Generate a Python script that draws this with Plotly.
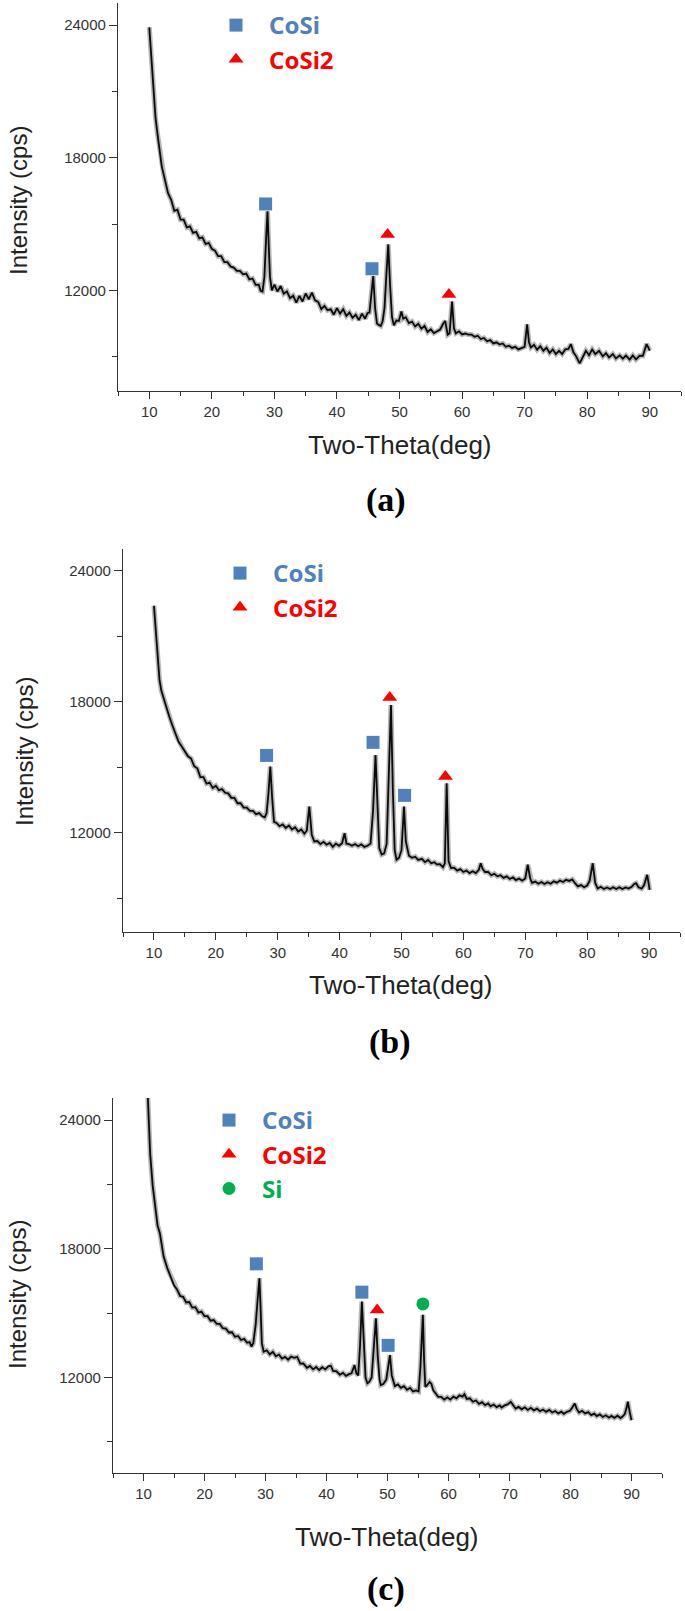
import plotly.graph_objects as go

W, H = 685, 1611

# ---------------- data ----------------
# Panel (a)
a_x = [10.0, 10.2, 10.4, 10.6, 10.8, 11.0, 11.3, 11.6, 12.0, 12.3, 12.6, 13.0, 13.5, 14.0, 14.5,
       15.0, 15.5, 16.0, 16.5, 17.0, 17.5, 18.0, 18.5, 19.0, 19.5, 20.0, 20.5, 21.0, 21.5, 22.0,
       22.5, 23.0, 23.5, 24.0, 24.5, 25.0, 25.5, 26.0, 26.5, 27.0, 27.5, 27.8, 28.1, 28.4, 28.7,
       28.9, 29.1, 29.3, 29.6, 30.0, 30.5, 31.0, 31.5, 32.0, 32.5, 33.0, 33.5, 34.0, 34.5, 35.0,
       35.5, 36.0, 36.5, 37.0, 37.5, 38.0, 38.5, 39.0, 39.5, 40.0, 40.5, 41.0, 41.5, 42.0, 42.5,
       43.0, 43.5, 44.0, 44.5, 44.9, 45.2, 45.5, 45.8, 46.1, 46.4, 46.7, 47.0, 47.3, 47.6, 47.9,
       48.2, 48.5, 48.8, 49.1, 49.5, 49.9, 50.3, 50.6, 51.0, 51.5, 52.0, 52.5, 53.0, 53.5, 54.0,
       54.5, 55.0, 55.5, 56.0, 56.5, 57.0, 57.3, 57.7, 58.0, 58.4, 58.7, 59.0, 59.5, 60.0, 60.5,
       61.0, 61.5, 62.0, 62.5, 63.0, 63.5, 64.0, 64.5, 65.0, 65.5, 66.0, 66.5, 67.0, 67.5, 68.0,
       68.5, 69.0, 69.5, 70.0, 70.4, 70.7, 71.0, 71.5, 72.0, 72.5, 73.0, 73.5, 74.0, 74.5, 75.0,
       75.5, 76.0, 76.5, 77.0, 77.4, 77.8, 78.2, 78.8, 79.2, 79.8, 80.3, 80.8, 81.3, 81.9, 82.5,
       83.0, 83.5, 84.1, 84.6, 85.2, 85.7, 86.2, 86.8, 87.3, 87.8, 88.4, 88.9, 89.3, 89.5, 89.8,
       90.0]
a_y = [23900, 23000, 22000, 21100, 20400, 19800, 19100, 18500, 17600, 17250, 16850, 16400, 16100, 15600, 15650,
       15200, 15200, 14850, 14900, 14600, 14650, 14350, 14400, 14100, 14150, 13880, 13800, 13550, 13550, 13280,
       13280, 13080, 13030, 12880, 12880, 12730, 12760, 12500, 12540, 12250, 12260, 11980, 11950, 12600, 14500,
       15580, 14000, 12600, 12000, 12260, 11950, 12200, 11850, 11960, 11650, 11760, 11450, 11750, 11500, 11860,
       11600, 11900, 11550, 11480, 11150, 11300, 11100, 11150, 10900, 11200, 10950, 11150, 10850, 11000, 10760,
       10900, 10660, 10950, 10720, 10980, 11000, 11700, 12650, 11200, 10500, 10440, 10390, 10600, 11200, 12700,
       14080, 12200, 10800, 10420, 10640, 10620, 11050, 10720, 10790, 10520, 10590, 10370, 10490, 10270, 10390,
       10120, 10240, 10070, 10170, 10230, 10500, 10620, 10000, 10060, 11500, 10300, 10060, 10150, 10010, 10050,
       10000, 10000, 9900, 9950, 9800, 9850, 9700, 9750, 9600, 9650, 9550, 9600, 9450, 9500, 9400,
       9450, 9330, 9400, 9450, 10470, 9650, 9420, 9540, 9320, 9480, 9270, 9410, 9170, 9330, 9120,
       9270, 9120, 9330, 9350, 9570, 9200, 9040, 8700, 8950, 9270, 9070, 9330, 9120, 9270, 9020,
       9160, 8970, 9120, 8920, 9060, 8910, 9050, 8870, 9060, 8880, 9050, 9040, 9400, 9570, 9400,
       9270]
a_cosi_x = [28.6, 45.6]
a_cosi_y = [15910, 12980]
a_cosi2_x = [48.1, 57.9]
a_cosi2_y = [14530, 11820]

# Panel (b)
b_x = [10.0, 10.2, 10.4, 10.6, 10.9, 11.2, 11.6, 12.0, 12.5, 13.0, 13.5, 14.0, 14.5, 15.0, 15.5,
       16.0, 16.5, 17.0, 17.5, 18.0, 18.5, 19.0, 19.5, 20.0, 20.5, 21.0, 21.5, 22.0, 22.5, 23.0,
       23.5, 24.0, 24.5, 25.0, 25.5, 26.0, 26.5, 27.0, 27.5, 27.9, 28.2, 28.5, 28.8, 29.1, 29.4,
       29.8, 30.3, 30.8, 31.3, 31.8, 32.3, 32.8, 33.3, 33.8, 34.3, 34.7, 35.1, 35.5, 35.9, 36.4,
       36.9, 37.4, 37.9, 38.4, 38.9, 39.4, 39.9, 40.4, 40.8, 41.1, 41.5, 42.0, 42.5, 43.0, 43.5,
       44.0, 44.5, 45.0, 45.4, 45.8, 46.1, 46.4, 46.8, 47.2, 47.6, 47.9, 48.3, 48.6, 48.9, 49.2,
       49.6, 50.0, 50.4, 50.7, 51.2, 51.7, 52.2, 52.7, 53.3, 53.8, 54.3, 54.8, 55.3, 55.7, 56.2,
       56.7, 57.0, 57.3, 57.6, 58.0, 58.5, 59.0, 59.5, 60.0, 60.5, 61.0, 61.5, 62.0, 62.5, 62.8,
       63.1, 63.5, 64.0, 64.5, 65.0, 65.5, 66.0, 66.5, 67.0, 67.5, 68.0, 68.5, 69.0, 69.5, 70.0,
       70.4, 70.8, 71.1, 71.6, 72.1, 72.6, 73.1, 73.6, 74.1, 74.6, 75.1, 75.6, 76.1, 76.6, 77.1,
       77.6, 78.0, 78.5, 79.0, 79.5, 80.0, 80.4, 80.9, 81.3, 81.7, 82.2, 82.7, 83.2, 83.7, 84.2,
       84.7, 85.2, 85.7, 86.2, 86.7, 87.2, 87.6, 87.9, 88.3, 88.8, 89.2, 89.7, 90.1]
b_y = [22400, 21600, 20800, 19900, 19000, 18500, 18100, 17700, 17300, 16900, 16500, 16150, 15950, 15700, 15500,
       15400, 15050, 14950, 14550, 14550, 14250, 14300, 14050, 14150, 13950, 14000, 13830, 13800, 13600, 13600,
       13350, 13350, 13150, 13150, 13000, 13000, 12850, 12900, 12750, 12700, 12900, 13800, 15030, 13600, 12500,
       12450, 12300, 12380, 12220, 12330, 12150, 12250, 12050, 12150, 11950, 12100, 13200, 11900, 11600, 11620,
       11480, 11580, 11450, 11530, 11350, 11500, 11400, 11520, 11980, 11500, 11480, 11400, 11480, 11380, 11470,
       11350, 11400, 11500, 13000, 15560, 13200, 11300, 11000, 11050, 11500, 14000, 17850, 14000, 11200, 10760,
       10850, 11200, 13200, 11600, 10950, 10850, 10900, 10750, 10800, 10650, 10750, 10600, 10650, 10550, 10560,
       10420, 10600, 14260, 10700, 10380, 10400, 10260, 10330, 10200, 10270, 10150, 10230, 10150, 10300, 10600,
       10350, 10200, 10200, 10050, 10120, 10000, 10050, 9930, 10000, 9880, 9950, 9830, 9900, 9800, 9900,
       10530, 9900, 9700, 9760, 9660, 9740, 9650, 9730, 9660, 9770, 9710, 9810, 9740, 9840, 9790,
       9860, 9700, 9540, 9600, 9500, 9580, 9800, 10600, 9700, 9440, 9520, 9420, 9490, 9420, 9500,
       9420, 9500, 9420, 9490, 9440, 9520, 9650, 9690, 9500, 9440, 9600, 10070, 9380]
b_cosi_x = [28.2, 45.4, 50.5]
b_cosi_y = [15540, 16140, 13710]
b_cosi2_x = [48.1, 57.1]
b_cosi2_y = [18200, 14570]

# Panel (c)
c_x = [10.5, 10.8, 11.1, 11.5, 11.9, 12.3, 12.7, 13.3, 13.9, 14.5, 15.0, 15.5, 16.0, 16.5, 17.0,
       17.5, 18.0, 18.5, 19.0, 19.5, 20.0, 20.5, 21.0, 21.5, 22.0, 22.5, 23.0, 23.5, 24.0, 24.5,
       25.0, 25.5, 26.0, 26.5, 27.0, 27.4, 27.7, 28.0, 28.4, 28.7, 29.0, 29.2, 29.4, 29.7, 30.2,
       30.7, 31.2, 31.7, 32.2, 32.7, 33.2, 33.7, 34.2, 34.7, 35.2, 35.7, 36.2, 36.8, 37.3, 37.8,
       38.3, 38.8, 39.3, 39.8, 40.3, 40.7, 41.1, 41.6, 42.2, 42.7, 43.2, 43.7, 44.1, 44.6, 44.9,
       45.2, 45.5, 45.8, 46.1, 46.4, 46.7, 47.0, 47.4, 47.8, 48.1, 48.4, 48.7, 48.9, 49.3, 49.8,
       50.1, 50.4, 50.7, 51.2, 51.7, 52.2, 52.7, 53.2, 53.7, 54.2, 54.7, 55.1, 55.4, 55.8, 56.0,
       56.2, 56.5, 56.9, 57.2, 57.5, 57.8, 58.3, 58.8, 59.3, 59.8, 60.3, 60.8, 61.3, 61.8, 62.3,
       62.6, 63.0, 63.5, 64.0, 64.5, 65.0, 65.5, 66.0, 66.5, 66.9, 67.4, 67.9, 68.4, 68.7, 69.2,
       69.7, 70.2, 70.6, 71.0, 71.5, 72.0, 72.5, 73.0, 73.5, 74.0, 74.5, 75.0, 75.5, 76.0, 76.5,
       77.0, 77.5, 78.0, 78.5, 78.9, 79.4, 79.9, 80.3, 80.7, 81.0, 81.4, 81.9, 82.4, 82.9, 83.4,
       83.9, 84.3, 84.8, 85.3, 85.8, 86.3, 86.7, 87.2, 87.7, 88.2, 88.5, 88.9, 89.2, 89.4, 89.7,
       90.0]
c_y = [26500, 24100, 22400, 20960, 19900, 19100, 18700, 17640, 17100, 16710, 16300, 16100, 15800, 15760, 15500,
       15520, 15260, 15280, 15030, 15080, 14860, 14860, 14650, 14680, 14500, 14500, 14300, 14280, 14100, 14110,
       13900, 13940, 13750, 13800, 13620, 13650, 13440, 13600, 14500, 15600, 16630, 15200, 13600, 13200, 13270,
       13080, 13200, 12990, 13070, 12880, 12960, 12830, 12980, 12920, 12960, 12650, 12660, 12450, 12540, 12380,
       12490, 12350, 12480, 12380, 12520, 12550, 12300, 12300, 12130, 12220, 12080, 12160, 12200, 12580, 12200,
       12100, 13500, 15540, 13400, 12000, 11730, 11800, 12000, 13500, 14760, 13000, 11900, 11650, 11700, 11900,
       12400, 13050, 12100, 11600, 11680, 11520, 11600, 11430, 11520, 11350, 11400, 11350, 12500, 14920, 12800,
       11570, 11650, 11800, 11700, 11400, 11300, 11100, 11100, 10970, 11080, 10970, 11110, 11030, 11170, 11110,
       11220, 11000, 11030, 10870, 10930, 10770, 10850, 10710, 10790, 10660, 10740, 10620, 10700, 10600, 10700,
       10750, 10870, 10700, 10550, 10630, 10520, 10610, 10490, 10590, 10470, 10550, 10430, 10510, 10400, 10490,
       10370, 10440, 10330, 10410, 10310, 10400, 10450, 10600, 10790, 10550, 10370, 10450, 10330, 10390, 10250,
       10320, 10200, 10280, 10160, 10240, 10130, 10210, 10120, 10220, 10110, 10170, 10300, 10600, 10870, 10400,
       10010]
c_cosi_x = [28.5, 45.8, 50.1]
c_cosi_y = [17300, 15980, 13500]
c_cosi2_x = [48.3]
c_cosi2_y = [15150]
c_si_x = [55.8]
c_si_y = [15430]

x_range = [5, 95]
x_major = 10
x_minor = 5
y_major = 6000
y_minor = 3000
ranges_y = {"a": [7450, 25000], "b": [7450, 25000], "c": [7550, 25030]}

x_title = "Two-Theta(deg)"
y_title = "Intensity (cps)"
panel_labels = ["(a)", "(b)", "(c)"]

# ---------------- styles ----------------
BLUE = "#4F81BD"
RED = "#FF0000"
GREEN = "#00B050"


def px_x(p):
    return p / W


def px_y(p):
    return 1 - p / H


# panel boxes in pixels: (left, right, top, bottom)
boxes = {
    "a": (118, 681, 3, 391),
    "b": (123, 680, 549, 932),
    "c": (113, 662, 1098, 1473),
}

fig = go.Figure()

panels = [
    ("a", "x", "y", a_x, a_y, [("CoSi", a_cosi_x, a_cosi_y, "square", BLUE),
                               ("CoSi2", a_cosi2_x, a_cosi2_y, "triangle-up", RED)], "legend"),
    ("b", "x2", "y2", b_x, b_y, [("CoSi", b_cosi_x, b_cosi_y, "square", BLUE),
                                 ("CoSi2", b_cosi2_x, b_cosi2_y, "triangle-up", RED)], "legend2"),
    ("c", "x3", "y3", c_x, c_y, [("CoSi", c_cosi_x, c_cosi_y, "square", BLUE),
                                 ("CoSi2", c_cosi2_x, c_cosi2_y, "triangle-up", RED),
                                 ("Si", c_si_x, c_si_y, "circle", GREEN)], "legend3"),
]

for key, xa, ya, xs, ys, markers, leg in panels:
    # soft halo to mimic the noisy band
    fig.add_trace(go.Scatter(x=xs, y=ys, mode="lines", xaxis=xa, yaxis=ya,
                             line=dict(color="rgba(30,30,30,0.32)", width=5),
                             showlegend=False, hoverinfo="skip"))
    fig.add_trace(go.Scatter(x=xs, y=ys, mode="lines", xaxis=xa, yaxis=ya,
                             line=dict(color="#0a0a0a", width=1.8),
                             showlegend=False))
    for name, mx, my, sym, col in markers:
        fig.add_trace(go.Scatter(
            x=mx, y=my, mode="markers", xaxis=xa, yaxis=ya,
            marker=dict(symbol=sym, size=13, color=col, line=dict(width=0)),
            name="<b><span style='color:%s'>%s</span></b>" % (col, name),
            legend=leg, showlegend=True))

layout = dict(
    width=W, height=H,
    margin=dict(l=0, r=0, t=0, b=0),
    paper_bgcolor="white", plot_bgcolor="white",
    font=dict(family="Liberation Sans, Arial, sans-serif", color="#333333"),
    showlegend=True,
)

axis_common_x = dict(
    range=x_range, showgrid=False, zeroline=False, showline=True,
    linecolor="#333333", linewidth=1.3, ticks="outside", ticklen=7, tickwidth=1.3,
    tickcolor="#333333", tickmode="linear", tick0=0, dtick=x_major,
    tickfont=dict(size=15, color="#333333"),
    minor=dict(ticks="outside", ticklen=4, tickwidth=1.2, tickcolor="#333333",
               dtick=x_minor, tick0=5, showgrid=False),
    fixedrange=True,
)
axis_common_y = dict(
    showgrid=False, zeroline=False, showline=True,
    linecolor="#333333", linewidth=1.3, ticks="outside", ticklen=8, tickwidth=1.3,
    tickcolor="#333333", tickmode="linear", tick0=0, dtick=y_major, tickformat="d",
    tickfont=dict(size=15, color="#333333"),
    minor=dict(ticks="outside", ticklen=5, tickwidth=1.2, tickcolor="#333333",
               dtick=y_minor, tick0=0, showgrid=False),
    fixedrange=True,
)

names = {"a": ("xaxis", "yaxis", "x", "y"),
         "b": ("xaxis2", "yaxis2", "x2", "y2"),
         "c": ("xaxis3", "yaxis3", "x3", "y3")}

for key, (xn, yn, xr, yr) in names.items():
    l, r, t, b = boxes[key]
    layout[xn] = dict(axis_common_x, domain=[px_x(l), px_x(r)], anchor=yr)
    layout[yn] = dict(axis_common_y, domain=[px_y(b), px_y(t)], anchor=xr,
                      range=ranges_y[key])

legend_common = dict(
    xanchor="left", yanchor="top", bgcolor="rgba(0,0,0,0)",
    font=dict(family="Noto Sans, Liberation Sans, sans-serif", size=24),
    itemwidth=56, tracegroupgap=0, orientation="v",
)
layout["legend"] = dict(legend_common, x=px_x(203), y=px_y(3))
layout["legend2"] = dict(legend_common, x=px_x(207), y=px_y(551))
layout["legend3"] = dict(legend_common, x=px_x(196), y=px_y(1098))

annotations = []
xt_pos = {"a": (400, 445), "b": (401, 985), "c": (387, 1537)}
yt_pos = {"a": (18, 201), "b": (25, 752), "c": (17, 1295)}
lab_pos = {"a": (386, 500), "b": (390, 1042), "c": (386, 1589)}
for i, key in enumerate(["a", "b", "c"]):
    x0, y0 = xt_pos[key]
    annotations.append(dict(text=x_title, x=px_x(x0), y=px_y(y0), xref="paper", yref="paper",
                            xanchor="center", yanchor="middle", showarrow=False,
                            font=dict(size=26, color="#222222",
                                      family="Liberation Sans, Arial, sans-serif")))
    x0, y0 = yt_pos[key]
    annotations.append(dict(text=y_title, x=px_x(x0), y=px_y(y0), xref="paper", yref="paper",
                            xanchor="center", yanchor="middle", showarrow=False, textangle=-90,
                            font=dict(size=24, color="#222222",
                                      family="Liberation Sans, Arial, sans-serif")))
    x0, y0 = lab_pos[key]
    annotations.append(dict(text="<b>%s</b>" % panel_labels[i], x=px_x(x0), y=px_y(y0),
                            xref="paper", yref="paper", xanchor="center", yanchor="middle",
                            showarrow=False,
                            font=dict(size=34, color="#000000",
                                      family="Liberation Serif, Times New Roman, serif")))
layout["annotations"] = annotations

fig.update_layout(**layout)
fig.write_html("out.html",
               config={"displayModeBar": False},
               post_script="document.body.style.margin='0';"
                           "document.body.style.padding='0';"
                           "document.body.style.overflow='hidden';")
